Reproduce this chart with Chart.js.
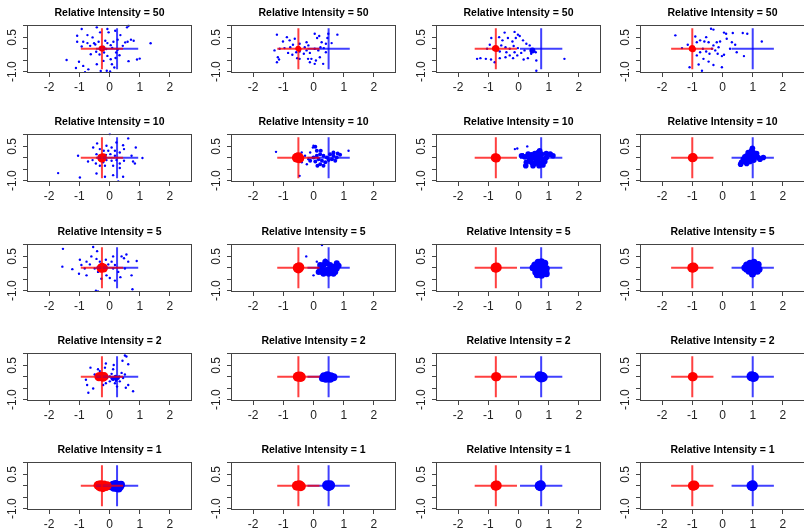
<!DOCTYPE html>
<html>
<head>
<meta charset="utf-8">
<script src="https://cdn.jsdelivr.net/npm/chart.js@4.4.0/dist/chart.umd.min.js"></script>
<style>
  html, body { margin: 0; padding: 0; background: #fff; }
  #root { position: relative; width: 804px; height: 529px; overflow: hidden; }
  #root canvas { position: absolute; }
</style>
</head>
<body>
<div id="root"></div>
<script>
// rows = relative intensity, columns = separation of the two sources
const intensities = [50, 10, 5, 2, 1];
const centers = [0.25, 0.5, 0.75, 1.0];
const armX = 0.7;
const armY = 0.9;
const xTicks = [-2, -1, 0, 1, 2];
const xTickLabels = ['-2', '-1', '0', '1', '2'];
const yTicks = [-1, -0.5, 0, 0.5, 1];
const yTickLabels = ['-1.0', '', '', '0.5', ''];

// Relative Intensity = 50
const blue50_1 = [[-0.92,0.87],[-0.42,0.94],[-0.07,0.87],[0.58,0.94],[0.63,1.01],[-1.07,0.57],[-0.73,0.60],[-0.56,0.50],[-0.31,0.72],[-0.03,0.72],[0.19,0.79],[0.36,0.60],[0.71,0.40],[0.80,0.35],[-1.07,0.31],[-0.87,0.31],[-0.73,0.25],[-0.51,0.24],[-0.36,0.31],[-0.14,0.35],[-0.07,0.25],[0.04,0.16],[0.13,0.31],[0.27,0.40],[0.52,0.28],[0.44,0.13],[0.60,0.31],[1.36,0.24],[-0.92,0.10],[-0.64,0.13],[-0.47,0.19],[-0.20,0.09],[-0.11,-0.01],[0.09,0.04],[0.27,-0.04],[0.22,-0.16],[-0.18,-0.16],[-0.33,-0.25],[-0.44,-0.13],[-0.62,-0.24],[-0.07,-0.31],[0.20,-0.40],[0.33,-0.28],[-1.42,-0.49],[-1.01,-0.57],[0.63,-0.54],[0.91,-0.47],[1.00,-0.43],[0.04,-0.46],[-0.87,-0.75],[-0.70,-0.90],[-0.29,-0.97],[-0.09,-0.96],[0.02,-0.99],[-1.11,-0.84],[0.16,-0.82],[-0.81,-1.03],[-0.42,-0.68],[-0.20,-0.53],[0.08,-0.68]];
const blue50_2 = [[-1.21,0.62],[-0.88,0.51],[-1.01,0.32],[-0.79,0.37],[-0.62,0.44],[-0.68,0.18],[-0.46,0.22],[-0.23,0.29],[-0.17,0.15],[0.04,0.66],[0.12,0.47],[0.19,0.56],[0.27,0.29],[0.41,0.22],[0.60,0.25],[0.79,0.62],[-1.29,-0.07],[-1.12,0.0],[-0.96,0.03],[-0.84,-0.18],[-0.70,-0.26],[-0.57,-0.15],[-0.46,-0.12],[-0.32,-0.22],[-0.23,-0.07],[-0.12,-0.18],[0.04,0.0],[0.16,-0.07],[0.23,0.07],[0.34,0.03],[0.41,-0.15],[0.21,-0.37],[-0.07,-0.44],[0.08,-0.51],[-0.12,-0.59],[0.04,-0.66],[-0.46,-0.44],[-0.54,-0.41],[-1.18,-0.37],[-1.14,-0.47],[-1.21,-0.59],[0.32,-0.66],[0.49,0.66],[0.46,0.47],[-0.77,0.07],[-0.29,0.07],[-0.18,-0.44]];
const blue50_3 = [[-0.46,0.71],[-0.13,0.74],[-0.02,0.62],[-0.90,0.47],[-0.64,0.51],[-0.53,0.37],[-0.35,0.47],[-0.20,0.32],[-0.09,0.47],[0.04,0.56],[0.15,0.37],[0.26,0.22],[0.37,0.15],[-0.95,0.18],[-1.04,0.0],[-0.57,0.15],[-0.43,0.07],[-0.29,0.0],[-0.16,0.12],[-0.02,0.03],[-0.62,-0.12],[-0.40,-0.15],[-0.13,-0.15],[0.09,-0.18],[0.20,-0.07],[0.42,-0.22],[0.57,-0.15],[-1.37,-0.44],[-1.26,-0.41],[-1.08,-0.44],[-0.91,-0.47],[-0.62,-0.41],[-0.43,-0.37],[-0.18,-0.41],[0.17,-0.47],[0.31,-0.41],[0.59,-0.51],[1.52,-0.44],[0.59,-0.96],[-0.79,-0.59],[-0.29,-0.29],[-0.04,-0.29]];
const core50_3 = [[0.46,-0.07]];
const blue50_4 = [[-1.56,0.59],[-1.15,0.18],[-1.34,0.03],[-0.90,0.54],[-0.74,0.37],[-0.85,0.29],[-0.60,0.32],[-0.54,0.51],[-0.38,0.88],[-0.30,0.84],[-0.46,0.29],[-0.30,0.15],[-0.19,0.29],[-0.08,0.32],[0.05,0.71],[0.12,0.66],[0.34,0.69],[0.67,0.69],[0.82,0.66],[1.30,0.32],[0.14,0.44],[0.31,0.29],[0.42,0.18],[0.25,0.0],[0.47,-0.15],[0.71,-0.32],[-0.65,0.0],[-0.74,-0.15],[-0.54,-0.12],[-0.43,-0.22],[-0.24,-0.07],[-0.16,-0.22],[-0.02,-0.32],[0.05,-0.26],[-0.85,-0.29],[-0.63,-0.44],[-0.46,-0.56],[-0.30,-0.71],[-0.79,-0.69],[-1.09,-0.81],[-0.68,-0.96],[-0.02,-0.81],[-0.13,0.07],[-0.35,0.0],[-0.93,0.0]];
const red50_1 = [[-0.28,0.01],[-0.24,-0.02],[-0.21,0.02],[-0.26,0.03]];
const red50_2 = [[-0.52,0.01],[-0.48,-0.02],[-0.50,0.02]];
const red50_3 = [[-0.78,0.01],[-0.73,-0.01],[-0.75,0.03]];
const red50_4 = [[-1.02,0.0],[-0.98,-0.02],[-1.0,0.03]];

// Relative Intensity = 10
const blue10_1 = [[0.01,1.04],[0.62,0.85],[-0.41,0.63],[-0.10,0.53],[0.23,0.67],[0.45,0.55],[0.87,0.45],[-0.54,0.45],[-0.32,0.38],[-0.19,0.31],[-0.04,0.31],[0.07,0.45],[0.18,0.31],[0.34,0.23],[0.48,0.38],[-0.43,0.16],[-0.12,0.13],[0.03,0.16],[0.18,0.09],[0.73,0.09],[1.09,-0.01],[-1.04,0.09],[-0.71,-0.16],[-0.56,-0.10],[-0.45,-0.25],[-0.21,-0.20],[-0.10,-0.10],[0.07,-0.13],[0.23,-0.10],[0.34,-0.25],[0.48,-0.13],[0.78,-0.16],[-0.32,-0.35],[-0.15,-0.35],[0.12,-0.35],[0.34,-0.45],[-0.43,-0.69],[-0.15,-0.83],[0.12,-0.76],[-1.70,-0.67],[-0.98,-0.86],[0.29,-1.04],[0.45,-0.83],[0.84,-0.25]];
const blue10_2 = [[-1.24,0.26],[-0.02,0.45],[0.0,0.53],[-0.11,0.23],[-0.39,0.23],[-0.28,0.09],[-0.17,-0.06],[-0.39,-0.20],[-0.22,-0.28],[-0.46,-0.79],[1.16,0.31]];
const core10_2 = [[0.11,0.09],[0.22,0.16],[0.33,0.09],[0.44,0.01],[0.55,0.16],[0.66,0.09],[0.77,0.01],[0.88,0.13],[0.17,-0.06],[0.28,-0.13],[0.39,-0.20],[0.50,-0.10],[0.22,-0.28],[0.13,-0.35],[0.33,-0.35],[0.61,-0.06],[0.72,-0.13],[0.06,-0.16],[0.0,0.01],[0.11,0.31],[0.06,0.48],[0.24,0.31],[0.66,0.23],[0.80,0.19],[-0.11,-0.13]];
const blue10_3 = [[-0.12,0.38],[-0.04,0.41],[0.29,0.50],[0.15,0.16]];
const core10_3 = [[0.10,0.09],[0.21,0.04],[0.32,0.16],[0.43,0.13],[0.54,0.19],[0.65,0.23],[0.76,0.16],[0.92,0.19],[1.05,0.16],[1.14,0.09],[0.37,-0.06],[0.48,-0.01],[0.59,-0.06],[0.70,-0.01],[0.81,-0.06],[0.92,0.01],[0.43,-0.20],[0.54,-0.25],[0.65,-0.20],[0.76,-0.25],[0.87,-0.16],[0.26,-0.20],[0.24,-0.35],[0.48,-0.35],[0.68,-0.35],[0.81,-0.31],[0.59,0.09],[0.70,0.31]];
const core10_4 = [[0.63,-0.20],[0.60,-0.28],[0.74,-0.13],[0.85,-0.06],[0.96,0.01],[1.07,0.09],[1.18,0.01],[1.35,0.01],[0.80,0.09],[0.91,0.16],[1.02,0.23],[1.13,0.19],[0.96,0.31],[0.85,0.23],[0.74,0.04],[0.69,-0.06],[0.80,-0.25],[0.91,-0.16],[1.04,-0.10],[1.24,-0.06],[0.99,0.42]];
const red10_1 = [[-0.27,0.0],[-0.22,0.02],[-0.25,-0.03]];
const red10_2 = [[-0.55,0.0],[-0.50,0.02],[-0.47,-0.02]];
const red10_3 = [[-0.77,0.0],[-0.73,-0.01]];
const red10_4 = [[-1.0,0.0],[-0.97,0.01]];

// Relative Intensity = 5
const blue5_1 = [[-1.54,0.83],[-1.56,0.05],[-1.23,-0.06],[-0.98,0.35],[-0.93,0.12],[-1.01,-0.26],[-0.76,0.27],[-0.82,-0.03],[-0.65,0.15],[-0.54,0.91],[-0.60,0.50],[-0.43,0.39],[-0.41,0.73],[-0.32,0.27],[-0.49,-0.03],[-0.38,-0.18],[-0.21,-0.11],[-0.12,0.35],[-0.04,0.15],[0.07,0.27],[0.12,-0.03],[0.18,0.12],[0.29,-0.18],[0.36,-0.41],[0.51,-0.03],[0.48,0.42],[0.56,0.58],[0.62,0.27],[0.73,-0.33],[0.90,0.30],[-0.10,-0.33],[-0.27,-0.48],[0.01,-0.45],[0.18,-0.56],[-0.38,-1.04],[-0.45,-1.0],[0.76,-0.94],[0.40,0.50],[-0.76,-0.33],[0.12,0.50]];
const blue5_2 = [[0.28,1.0],[-0.24,0.50],[0.11,0.27],[0.0,-0.33],[0.39,0.35]];
const core5_2 = [[0.22,-0.03],[0.33,0.12],[0.44,0.20],[0.55,0.12],[0.66,0.05],[0.77,-0.03],[0.83,0.09],[0.28,-0.18],[0.39,-0.11],[0.50,-0.06],[0.61,-0.15],[0.72,-0.18],[0.33,-0.26],[0.50,-0.26],[0.66,-0.26],[0.17,-0.18],[0.22,0.12],[0.39,0.27],[0.77,0.20]];
const core5_3 = [[0.54,0.12],[0.65,0.24],[0.76,0.27],[0.87,0.20],[0.59,-0.03],[0.70,0.05],[0.81,0.0],[0.92,-0.03],[0.57,-0.18],[0.68,-0.18],[0.79,-0.18],[0.90,-0.15],[0.62,-0.30],[0.76,-0.33],[0.92,-0.26],[0.48,0.0]];
const core5_4 = [[0.80,0.12],[0.91,0.20],[1.04,0.24],[1.18,0.15],[0.80,-0.06],[0.93,0.0],[1.07,0.0],[1.21,-0.06],[0.88,-0.15],[1.02,-0.18],[1.15,-0.15],[0.99,-0.27],[0.74,0.0]];
const red5_1 = [[-0.25,0.02],[-0.20,-0.01],[-0.28,-0.02]];
const red5_2 = [[-0.52,0.0],[-0.47,0.02],[-0.50,-0.03]];
const red5_3 = [[-0.76,0.0],[-0.72,0.01]];
const red5_4 = [[-1.0,0.0],[-0.96,0.01]];

// Relative Intensity = 2
const blue2_1 = [[-0.63,0.40],[-0.78,-0.13],[-0.74,-0.36],[-0.70,-0.70],[-0.54,-0.51],[-0.49,0.10],[-0.38,0.33],[-0.32,0.25],[-0.15,0.40],[-0.12,0.58],[-0.08,-0.05],[-0.12,-0.28],[0.01,-0.20],[0.07,-0.05],[0.12,-0.13],[0.18,-0.02],[0.25,-0.08],[0.32,0.02],[0.18,-0.28],[0.34,-0.20],[0.40,0.17],[0.51,0.10],[0.45,-0.05],[0.12,0.33],[0.14,0.52],[0.51,0.93],[0.56,0.89],[0.43,0.70],[0.62,0.55],[0.62,-0.36],[0.54,-0.48],[0.78,-0.63],[-0.21,-0.36],[0.25,-0.43],[0.07,0.13],[0.21,-0.17],[0.01,0.02]];
const core2_1 = [[0.15,-0.05],[0.22,-0.10],[0.28,-0.05],[0.20,0.0],[0.10,-0.08]];
const core2_2 = [[0.35,0.02],[0.46,0.07],[0.57,0.02],[0.66,-0.02],[0.41,-0.08],[0.55,-0.08],[0.31,-0.05]];
const core2_3 = [[0.70,0.02],[0.76,0.0],[0.80,-0.02],[0.74,-0.03]];
const core2_4 = [[0.96,0.02],[1.0,0.0],[1.04,-0.01]];
const red2_1 = [[-0.35,0.0],[-0.28,0.02],[-0.22,-0.02],[-0.18,0.01]];
const red2_2 = [[-0.52,0.0],[-0.45,0.01],[-0.42,-0.01]];
const red2_3 = [[-0.76,0.0],[-0.72,0.0]];
const red2_4 = [[-1.0,0.0],[-0.97,0.0]];

// Relative Intensity = 1
const core1_1 = [[0.05,-0.02],[0.12,0.05],[0.20,0.08],[0.28,0.03],[0.35,-0.03],[0.15,-0.08],[0.25,-0.10],[0.38,0.05],[0.30,-0.12]];
const core1_2 = [[0.45,0.02],[0.50,-0.02],[0.55,0.02]];
const core1_3 = [[0.70,0.0],[0.74,0.02],[0.72,-0.02]];
const core1_4 = [[0.96,0.0],[1.0,0.02],[0.99,-0.02]];
const red1_1 = [[-0.38,0.02],[-0.30,0.05],[-0.25,-0.02],[-0.18,0.03],[-0.12,-0.03],[-0.22,-0.08],[-0.32,-0.05],[-0.08,0.0]];
const red1_2 = [[-0.55,0.0],[-0.47,0.02],[-0.42,-0.02]];
const red1_3 = [[-0.76,0.0],[-0.72,0.01]];
const red1_4 = [[-0.98,0.0],[-0.93,0.01]];

// [row][col] tables built from the arrays above
const blueDots = [
    [blue50_1, blue50_2, blue50_3, blue50_4],
    [blue10_1, blue10_2, blue10_3, []],
    [blue5_1, blue5_2, [], []],
    [blue2_1, [], [], []],
    [[], [], [], []]
];
const blueCore = [
    [[], [], core50_3, []],
    [[], core10_2, core10_3, core10_4],
    [[], core5_2, core5_3, core5_4],
    [core2_1, core2_2, core2_3, core2_4],
    [core1_1, core1_2, core1_3, core1_4]
];
const redCore = [
    [red50_1, red50_2, red50_3, red50_4],
    [red10_1, red10_2, red10_3, red10_4],
    [red5_1, red5_2, red5_3, red5_4],
    [red2_1, red2_2, red2_3, red2_4],
    [red1_1, red1_2, red1_3, red1_4]
];

// marker sizes (px)
const coreSize = [[3, 3, 3, 3], [2.4, 2, 2.8, 2.8], [3, 3, 3.5, 3.5], [2, 4, 5, 5], [4, 5, 5, 5]];
const redSize = [[2.5, 2.5, 3, 3], [4, 5, 4.5, 4.5], [4.5, 5, 5, 5], [4.5, 5, 4.5, 4.5], [4.5, 5, 5, 5]];

const pts = a => a.map(([x, y]) => ({ x, y }));
const font = (size, weight) => ({ family: 'Liberation Sans, Arial, sans-serif', size, weight });

// box around the plot area, like R's bty = "o"
const boxPlugin = {
    id: 'box',
    afterDatasetsDraw(chart) {
        const { ctx, chartArea: a } = chart;
        ctx.save();
        ctx.strokeStyle = '#444';
        ctx.lineWidth = 1;
        ctx.strokeRect(Math.round(a.left) + 0.5, Math.round(a.top) + 0.5,
            Math.round(a.right - a.left) - 1, Math.round(a.bottom - a.top) - 1);
        ctx.restore();
    }
};

const segment = (data, color) => ({
    data: pts(data),
    showLine: true,
    borderColor: color,
    borderWidth: 2,
    pointRadius: 0,
    fill: false,
    borderCapStyle: 'butt'
});

const dots = (data, color, r) => ({
    data: pts(data),
    backgroundColor: color,
    borderWidth: 0,
    pointRadius: r
});

const root = document.getElementById('root');

intensities.forEach((ri, row) => {
    centers.forEach((d, col) => {
        const canvas = document.createElement('canvas');
        canvas.width = 204;
        canvas.height = 110;
        canvas.style.left = Math.round(col * 204.4) + 'px';
        canvas.style.top = Math.round(row * 109.3) + 'px';
        root.appendChild(canvas);

        new Chart(canvas, {
            type: 'scatter',
            data: {
                datasets: [
                    segment([[-d - armX, 0], [-d + armX, 0]], 'rgba(255,0,0,0.75)'),
                    segment([[-d, -armY], [-d, armY]], 'rgba(255,0,0,0.75)'),
                    segment([[d - armX, 0], [d + armX, 0]], 'rgba(0,0,255,0.75)'),
                    segment([[d, -armY], [d, armY]], 'rgba(0,0,255,0.75)'),
                    dots(redCore[row][col], '#ff0000', redSize[row][col]),
                    dots(blueCore[row][col], '#0000ff', coreSize[row][col]),
                    dots(blueDots[row][col], '#0000ff', 1.2)
                ]
            },
            options: {
                responsive: false,
                animation: false,
                events: [],
                layout: { padding: { left: 0, right: 12, top: 0, bottom: 0 } },
                plugins: {
                    legend: { display: false },
                    tooltip: { enabled: false },
                    title: {
                        display: true,
                        fullSize: false,
                        text: 'Relative Intensity = ' + ri,
                        color: '#000',
                        font: font(10.5, 'bold'),
                        padding: { top: 7, bottom: 5 }
                    }
                },
                scales: {
                    x: {
                        type: 'linear',
                        min: -2.73,
                        max: 2.73,
                        afterBuildTicks: s => { s.ticks = xTicks.map(v => ({ value: v })); },
                        afterFit: s => { s.height = 37; },
                        border: { display: false },
                        grid: { drawOnChartArea: false, drawTicks: true, tickLength: 4, color: '#444' },
                        ticks: {
                            color: '#222',
                            font: font(12),
                            padding: 3,
                            autoSkip: false,
                            maxRotation: 0,
                            callback: (v, i) => xTickLabels[i]
                        }
                    },
                    y: {
                        type: 'linear',
                        min: -1.06,
                        max: 1.06,
                        afterBuildTicks: s => { s.ticks = yTicks.map(v => ({ value: v })); },
                        afterFit: s => { s.width = 27; },
                        border: { display: false },
                        grid: { drawOnChartArea: false, drawTicks: true, tickLength: 4, color: '#444' },
                        ticks: {
                            color: '#222',
                            font: font(12),
                            padding: 0,
                            autoSkip: false,
                            minRotation: 90,
                            maxRotation: 90,
                            crossAlign: 'center',
                            callback: (v, i) => yTickLabels[i]
                        }
                    }
                }
            },
            plugins: [boxPlugin]
        });
    });
});
</script>
</body>
</html>
